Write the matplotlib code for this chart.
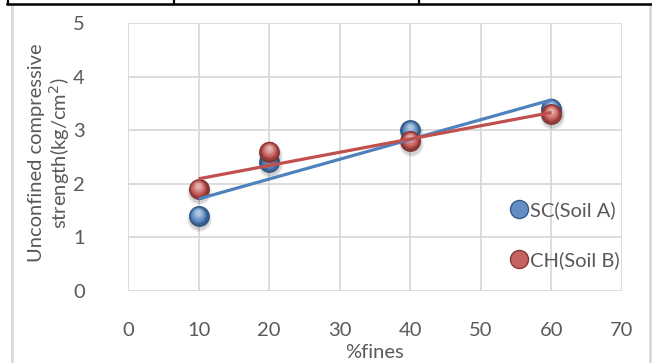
import numpy as np
import matplotlib
matplotlib.use("Agg")
import matplotlib.pyplot as plt
from matplotlib.lines import Line2D
from matplotlib import transforms
from matplotlib.colors import to_rgb

plt.rcParams['font.family'] = ['Lato', 'DejaVu Sans']

# Data
fines = [10, 20, 40, 60]
soil_a = [1.4, 2.4, 3.0, 3.4]   # SC (Soil A)
soil_b = [1.9, 2.6, 2.8, 3.3]   # CH (Soil B)
series_names = ["SC(Soil A)", "CH(Soil B)"]
x_ticks = [0, 10, 20, 30, 40, 50, 60, 70]
y_ticks = [0, 1, 2, 3, 4, 5]

BLUE = "#4F81BD"
RED = "#C0504D"
TEXT = "#595959"
GRID = "#D9D9D9"
FS = 14.5

fig = plt.figure(figsize=(6.52, 3.63), dpi=100)
ax = fig.add_axes([128 / 652, 1 - 291 / 363, 494 / 652, 268 / 363])


def mix(c, other, t):
    c = np.array(to_rgb(c))
    o = np.array(to_rgb(other))
    return tuple(c * (1 - t) + o * t)


def sphere(ax, xs, ys, color, size=15, z=3):
    """Shaded spherical markers built from stacked circles."""
    # soft drop shadow
    for k, a in enumerate([0.05, 0.06, 0.08]):
        tr = transforms.offset_copy(ax.transData, fig=fig, x=0.6, y=-2.2, units='points')
        ax.plot(xs, ys, 'o', ms=size + 3 - 1.5 * k, color='k', alpha=a,
                mec='none', transform=tr, zorder=z - 0.5)
    steps = 14
    for i in range(steps):
        t = i / (steps - 1)
        ms = size * (1 - 0.78 * t)
        shade = mix(color, 'black', 0.35 * (1 - t) ** 2) if t < 0.35 else \
            mix(color, 'white', 0.55 * (t - 0.35) / 0.65)
        dy = 2.6 * t
        dx = -0.4 * t
        tr = transforms.offset_copy(ax.transData, fig=fig, x=dx, y=dy, units='points')
        ax.plot(xs, ys, 'o', ms=ms, color=shade, mec='none', transform=tr, zorder=z)


sphere(ax, fines, soil_a, BLUE, z=3)
sphere(ax, fines, soil_b, RED, z=4)

# Linear trendlines
xf = np.array([min(fines), max(fines)])
for ys, col, z in [(soil_a, BLUE, 5), (soil_b, RED, 6)]:
    p = np.polyfit(fines, ys, 1)
    ax.plot(xf, np.polyval(p, xf), color=col, lw=2.3, solid_capstyle='butt', zorder=z)

ax.set_xlim(0, 70)
ax.set_ylim(0, 5)
ax.set_xticks(x_ticks)
ax.set_yticks(y_ticks)
ax.grid(True, color=GRID, lw=1.3)
ax.set_axisbelow(True)
for s in ax.spines.values():
    s.set_visible(False)
ax.tick_params(length=0, labelsize=FS, labelcolor=TEXT)
ax.tick_params(axis='y', pad=31)
ax.tick_params(axis='x', pad=22)
ax.set_xlabel("%fines", fontsize=FS, color=TEXT)
ax.xaxis.set_label_coords(0.5, -0.196)
ax.set_ylabel("Unconfined compressive\nstrength(kg/cm$^2$)", fontsize=FS,
              color=TEXT, linespacing=1.15, va='center')
ax.yaxis.set_label_coords(-0.158, 0.515)

# Legend with sphere-like handles
handles = [Line2D([], [], ls='none', marker='o', ms=13, color=mix(c, 'white', 0.1),
                  mec=mix(c, 'black', 0.3), mew=1) for c in (BLUE, RED)]
ax.legend(handles, series_names, loc='center left', bbox_to_anchor=(0.755, 0.207),
          frameon=False, fontsize=FS, labelcolor=TEXT, handlelength=0.8,
          handletextpad=0.15, labelspacing=1.6, borderpad=0)

# Chart-area border and surrounding table rules
gray = "#D9D9D9"
fig.add_artist(Line2D([12 / 652, 12 / 652], [0, 1 - 6 / 363], color=gray, lw=2))
fig.add_artist(Line2D([650 / 652, 650 / 652], [0, 1 - 6 / 363], color=gray, lw=2))
fig.add_artist(Line2D([7 / 652, 1], [1 - 3.5 / 363, 1 - 3.5 / 363], color='black', lw=1.8))
for xv in (7.5, 174, 419):
    fig.add_artist(Line2D([xv / 652, xv / 652], [1 - 4 / 363, 1], color='black', lw=1.6))

fig.savefig("out.png", dpi=100)
